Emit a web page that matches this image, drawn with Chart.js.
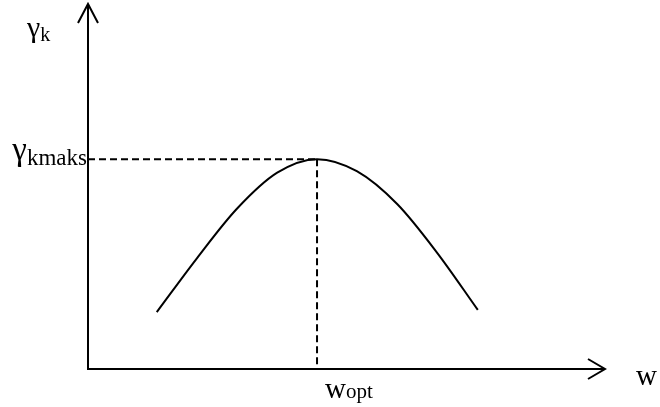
<!DOCTYPE html>
<html>
<head>
<meta charset="utf-8">
<script src="https://cdn.jsdelivr.net/npm/chart.js@4/dist/chart.umd.min.js"></script>
<style>
  html, body { margin: 0; padding: 0; background: #fff; }
  #wrap { width: 660px; height: 407px; position: relative; }
</style>
</head>
<body>
<div id="wrap"><canvas id="chart"></canvas></div>
<script>
// curve (axis units 0..100)
const curveW = [13.3, 21.1, 28.8, 36.6, 44.3, 52.0, 59.8, 67.5, 75.4]
const curveGamma = [15.6, 30.4, 43.9, 53.8, 57.5, 54.2, 45.2, 31.9, 16.2]
const peakW = 44.3
const peakGamma = 57.5

// axis labels: [main letter, subscript]
const yAxisLabel = ['γ', 'k']
const xAxisLabel = ['w', '']
const peakGammaLabel = ['γ', 'kmaks']
const peakWLabel = ['w', 'opt']

const serif = '"Liberation Serif", "Times New Roman", serif'

function drawLabel(ctx, parts, x, y, bigSize, smallSize, drop, align) {
  ctx.font = bigSize + 'px ' + serif
  const w1 = ctx.measureText(parts[0]).width
  ctx.font = smallSize + 'px ' + serif
  const w2 = ctx.measureText(parts[1]).width
  const x0 = align === 'right' ? x - w1 - w2 : x
  ctx.textAlign = 'left'
  ctx.textBaseline = 'alphabetic'
  ctx.font = bigSize + 'px ' + serif
  ctx.fillText(parts[0], x0, y)
  ctx.font = smallSize + 'px ' + serif
  ctx.fillText(parts[1], x0 + w1, y + drop)
}

const axesPlugin = {
  id: 'arrowAxes',
  afterDraw(chart) {
    const ctx = chart.ctx
    const area = chart.chartArea
    const xs = chart.scales.x
    const ys = chart.scales.y
    const x0 = xs.getPixelForValue(0)
    const y0 = ys.getPixelForValue(0)
    ctx.save()
    ctx.strokeStyle = '#000'
    ctx.fillStyle = '#000'
    ctx.lineWidth = 2
    // y axis with open arrowhead
    ctx.beginPath()
    ctx.moveTo(x0, y0 + 1)
    ctx.lineTo(x0, area.top)
    ctx.moveTo(x0 - 10, area.top + 19)
    ctx.lineTo(x0, area.top)
    ctx.lineTo(x0 + 10, area.top + 19)
    ctx.stroke()
    // x axis with open arrowhead
    ctx.beginPath()
    ctx.moveTo(x0 - 1, y0)
    ctx.lineTo(area.right, y0)
    ctx.moveTo(area.right - 17, y0 - 10)
    ctx.lineTo(area.right, y0)
    ctx.lineTo(area.right - 17, y0 + 10)
    ctx.stroke()

    const px = xs.getPixelForValue(peakW)
    const py = ys.getPixelForValue(peakGamma)
    drawLabel(ctx, yAxisLabel, 27, 37, 30, 20, 4, 'left')
    drawLabel(ctx, peakGammaLabel, x0 - 1, py + 1, 33, 23, 5, 'right')
    drawLabel(ctx, peakWLabel, px + 8, y0 + 29, 29, 21, 0, 'left')
    drawLabel(ctx, xAxisLabel, area.right + 31, y0 + 16, 29, 19, 0, 'left')
    ctx.restore()
  }
}

new Chart(document.getElementById('chart'), {
  type: 'line',
  data: {
    datasets: [
      {
        data: curveW.map((w, i) => ({ x: w, y: curveGamma[i] })),
        borderColor: '#000',
        borderWidth: 2,
        pointRadius: 0,
        cubicInterpolationMode: 'monotone'
      },
      {
        data: [{ x: 0, y: peakGamma }, { x: peakW, y: peakGamma }],
        borderColor: '#000',
        borderWidth: 2,
        borderDash: [7, 4],
        pointRadius: 0
      },
      {
        data: [{ x: peakW, y: peakGamma }, { x: peakW, y: 0 }],
        borderColor: '#000',
        borderWidth: 2,
        borderDash: [7, 4],
        pointRadius: 0
      }
    ]
  },
  options: {
    responsive: true,
    maintainAspectRatio: false,
    animation: false,
    layout: { padding: { left: 88, right: 55, top: 4, bottom: 38 } },
    scales: {
      x: { type: 'linear', min: 0, max: 100, display: false },
      y: { type: 'linear', min: 0, max: 100, display: false }
    },
    plugins: {
      legend: { display: false },
      tooltip: { enabled: false }
    }
  },
  plugins: [axesPlugin]
})
</script>
</body>
</html>
